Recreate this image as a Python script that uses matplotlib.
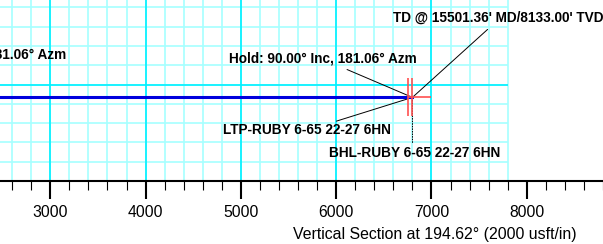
import matplotlib
matplotlib.use("Agg")
import matplotlib.pyplot as plt
import numpy as np

plt.rcParams['font.family'] = ['Liberation Sans', 'DejaVu Sans']

# ---- Data ----
well_vs = [2400, 6800]          # vertical section (usft)
well_tvd = [8133, 8133]         # true vertical depth (usft)
ltp_vs, bhl_vs = 6750, 6800
target_tvd = 8133
target_span = (7934, 8327)
target_tail = 6990

major_vs = [3000, 4000, 5000, 6000, 7000]
minor_vs = np.arange(2600, 7801, 200)
major_tvd = [8000, 9000]
minor_tvd = np.arange(7200, 9001, 200)
tick_major = np.arange(3000, 8001, 1000)
tick_minor = np.arange(2600, 8801, 200)

# ---- Figure ----
fig = plt.figure(figsize=(6.03, 2.44), dpi=100)
ax = fig.add_axes([0, 63 / 244, 1, 181 / 244])
ax.set_xlim(2472, 8747)
ax.set_ylim(9000, 7123)

grid_top, grid_bot, grid_right = 7000, 9000, 7800
minor_c, major_c = "#a6ffff", "#00f0ff"

# grid (stops at 7800 VS)
ax.vlines(minor_vs, grid_top, grid_bot, color=minor_c, lw=1.2, zorder=1)
ax.hlines(minor_tvd, 2000, grid_right, color=minor_c, lw=1.2, zorder=1)
ax.vlines(major_vs, grid_top, grid_bot, color=major_c, lw=1.2, zorder=2)
ax.hlines(major_tvd, 2000, grid_right, color=major_c, lw=1.2, zorder=2)

# wellpath
ax.plot(well_vs, well_tvd, color="#0000dd", lw=2.2, zorder=4)

# target markers
red = "#ff5050"
ax.vlines([ltp_vs, bhl_vs], *target_span, color=red, lw=1.2, zorder=5)
ax.hlines(target_tvd, ltp_vs, target_tail, color=red, lw=1.2, zorder=5)

# annotations
bold = dict(fontsize=9.8, fontweight="bold", va="center", zorder=6)
lead = dict(arrowstyle="-", color="black", lw=0.7, shrinkA=0, shrinkB=0)

ax.text(3169, 7685, "Inc, 181.06° Azm", ha="right", **bold)

ax.text(6600, 7310, "TD @ 15501.36' MD/8133.00' TVD", ha="left", **bold)
ax.annotate("", xy=(bhl_vs, target_tvd), xytext=(7589, 7428), arrowprops=lead)

ax.text(4876, 7727, "Hold: 90.00° Inc, 181.06° Azm", ha="left", **bold)
ax.annotate("", xy=(bhl_vs, target_tvd), xytext=(6114, 7844), arrowprops=lead)

ax.text(4813, 8476, "LTP-RUBY 6-65 22-27 6HN", ha="left", **bold)
ax.annotate("", xy=(bhl_vs, target_tvd), xytext=(6003, 8379), arrowprops=lead)

ax.text(5927, 8712, "BHL-RUBY 6-65 22-27 6HN", ha="left", **bold)
ax.annotate("", xy=(bhl_vs, target_tvd), xytext=(6801, 8601),
            arrowprops=dict(lead, linestyle=":"))

# axis styling
for s in ["left", "top", "right"]:
    ax.spines[s].set_visible(False)
ax.spines["bottom"].set_linewidth(1.5)
ax.spines["bottom"].set_zorder(7)
ax.set_yticks([])
ax.set_xticks(tick_major)
ax.set_xticks(tick_minor, minor=True)
ax.tick_params(axis="x", which="major", direction="out", length=13, width=1.5,
               labelsize=11.3, pad=4.5)
ax.tick_params(axis="x", which="minor", direction="out", length=6.5, width=0.8)
ax.patch.set_alpha(0)

fig.text(577 / 603, 1 - 235 / 244, "Vertical Section at 194.62° (2000 usft/in)",
         ha="right", va="center", fontsize=11.4)

fig.savefig("out.png", dpi=100)
